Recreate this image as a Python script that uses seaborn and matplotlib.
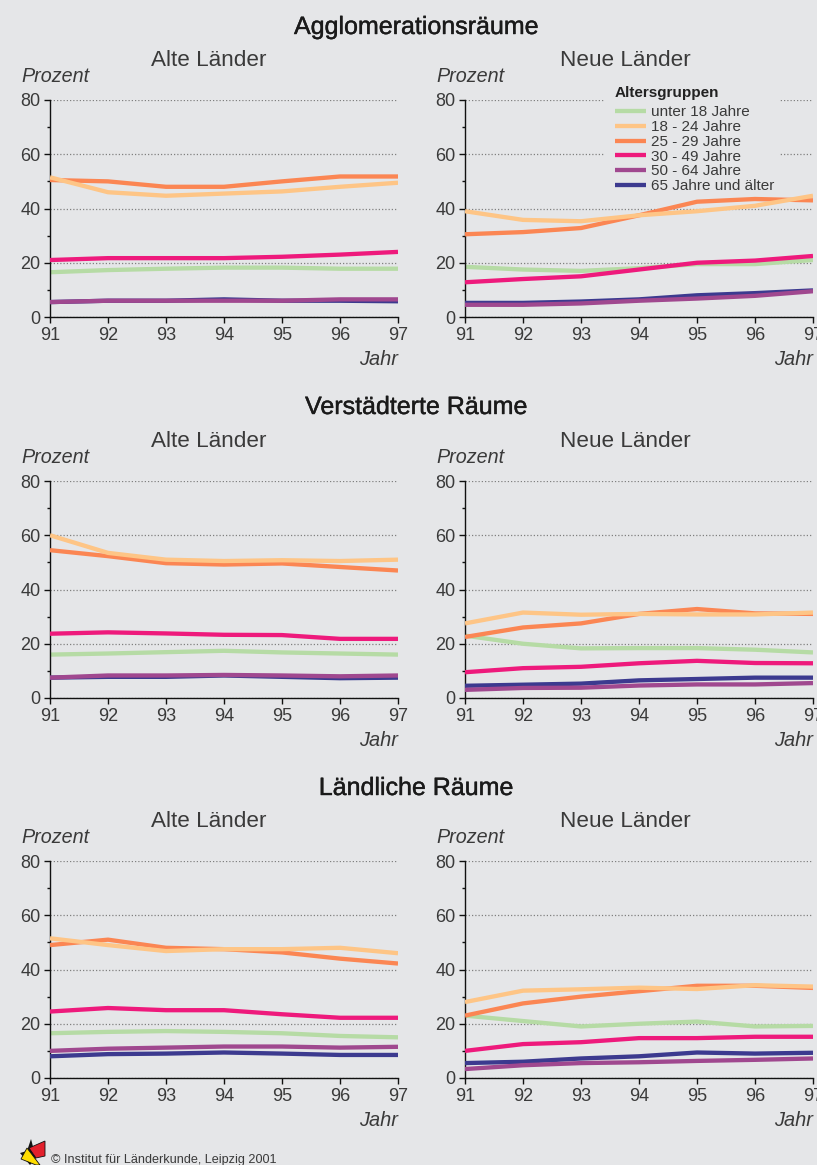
import matplotlib
matplotlib.use('Agg')
import matplotlib.pyplot as plt
import matplotlib.patheffects as pe
from matplotlib.patches import Polygon, Rectangle
import pandas as pd
import seaborn as sns

jahre = [91, 92, 93, 94, 95, 96, 97]
gruppen = ['unter 18 Jahre', '18 - 24 Jahre', '25 - 29 Jahre', '30 - 49 Jahre', '50 - 64 Jahre', '65 Jahre und älter']
farben = ['#B6DBA5', '#FEC586', '#FB8653', '#EE1A7C', '#A0488F', '#3C3A8F']

agglo_alt = [
    [16.5, 17.3, 17.8, 18.2, 18.2, 17.8, 17.8],
    [51.5, 46, 44.7, 45.5, 46.3, 48, 49.5],
    [50.5, 50, 48, 48, 50, 51.8, 51.8],
    [21, 21.7, 21.7, 21.7, 22.2, 23, 24],
    [5.5, 6, 6, 6, 6, 6.5, 6.5],
    [5.5, 6, 6, 6.5, 6, 6, 5.8],
]
agglo_neu = [
    [18.5, 17.5, 17, 18, 19.5, 19.5, 21],
    [39, 35.8, 35.3, 37.5, 39, 41, 44.7],
    [30.5, 31.3, 32.8, 37.5, 42.5, 43.5, 43],
    [12.8, 14, 15, 17.5, 20, 20.8, 22.5],
    [4.5, 4.5, 5, 6, 6.8, 7.8, 9.5],
    [5.2, 5.2, 5.7, 6.5, 8, 8.8, 9.8],
]
stadt_alt = [
    [16, 16.4, 16.9, 17.4, 16.8, 16.4, 16],
    [60, 53.5, 51, 50.5, 50.8, 50.5, 51],
    [54.5, 52.3, 49.7, 49.2, 49.6, 48.3, 47],
    [23.7, 24.2, 23.8, 23.3, 23.2, 21.8, 21.8],
    [7.5, 8.3, 8.3, 8.5, 8.3, 8, 8.3],
    [7.5, 7.8, 7.8, 8.3, 7.8, 7.3, 7.5],
]
stadt_neu = [
    [23, 20, 18.3, 18.4, 18.4, 17.8, 16.8],
    [27.5, 31.5, 30.7, 31, 30.8, 30.8, 31.5],
    [22.5, 26, 27.5, 31, 32.8, 31.2, 31],
    [9.5, 11, 11.5, 12.8, 13.7, 12.9, 12.8],
    [3, 3.7, 3.8, 4.6, 5, 5, 5.5],
    [4.5, 4.9, 5.3, 6.5, 7, 7.5, 7.5],
]
land_alt = [
    [16.5, 17, 17.3, 17, 16.5, 15.5, 15],
    [51.5, 49, 46.8, 47.5, 47.5, 48, 46],
    [49, 51, 48, 47.5, 46.3, 44, 42.2],
    [24.5, 25.8, 25, 25, 23.5, 22.2, 22.2],
    [10, 10.8, 11.2, 11.6, 11.6, 11.2, 11.5],
    [8, 8.8, 9, 9.4, 9, 8.5, 8.5],
]
land_neu = [
    [23, 21, 19, 20, 20.8, 19, 19.2],
    [28, 32.2, 32.7, 33.3, 32.8, 34.2, 33.7],
    [23, 27.5, 30, 32, 34, 34, 33.2],
    [10, 12.5, 13.2, 14.7, 14.7, 15.2, 15.2],
    [3.3, 4.7, 5.5, 5.8, 6.3, 6.7, 7.2],
    [5.5, 6, 7.2, 8, 9.4, 9, 9.3],
]

B, H = 817, 1165
HINTERGRUND = '#E5E6E8'
TEXT = '#3a3a3a'

sns.set_theme(style='white')
plt.rcParams['font.family'] = ['Liberation Sans', 'DejaVu Sans']

fig = plt.figure(figsize=(B / 100, H / 100), dpi=100, facecolor=HINTERGRUND)


def fx(x):
    return x / B


def fy(y):
    return 1 - y / H


def panel(links, oben, werte):
    ax = fig.add_axes([fx(links), fy(oben + 217), 348 / B, 217 / H], facecolor='none')
    # reihenfolge der linien wie im original: lila liegt ueber blau, hellorange ueber orange
    ebene = [2, 4, 3, 5, 7, 6]
    for i, g in enumerate(gruppen):
        df = pd.DataFrame({'jahr': jahre, 'prozent': werte[i]})
        sns.lineplot(data=df, x='jahr', y='prozent', ax=ax, color=farben[i], linewidth=3.1,
                     label=g, zorder=ebene[i], errorbar=None, solid_capstyle='butt', legend=False)
    ax.set_xlim(91, 97)
    ax.set_ylim(0, 80)
    ax.set_xticks(jahre)
    ax.set_yticks([0, 20, 40, 60, 80])
    ax.set_yticks([10, 30, 50, 70], minor=True)
    ax.set_xlabel('')
    ax.set_ylabel('')
    ax.tick_params(axis='both', which='major', direction='out', left=True, bottom=True, length=4, width=1,
                   color='#111111', labelsize=13, labelcolor=TEXT, pad=3)
    ax.tick_params(axis='y', which='minor', direction='out', left=True, length=2, width=1, color='#111111')
    ax.yaxis.grid(True, linestyle=(0, (1, 1.6)), linewidth=0.9, color='#808080')
    ax.set_axisbelow(True)
    for s in ['top', 'right']:
        ax.spines[s].set_visible(False)
    for s in ['left', 'bottom']:
        ax.spines[s].set_color('#111111')
        ax.spines[s].set_linewidth(1)
    return ax


zeilen = [
    ('Agglomerationsräume', 34, 100, agglo_alt, agglo_neu),
    ('Verstädterte Räume', 414, 481, stadt_alt, stadt_neu),
    ('Ländliche Räume', 795, 861, land_alt, land_neu),
]

achsen = []
for titel, y_titel, oben, alt, neu in zeilen:
    fig.text(fx(416), fy(y_titel), titel, fontsize=18, color='#1a1a1a', ha='center', va='baseline',
             path_effects=[pe.withStroke(linewidth=0.3, foreground='#1a1a1a')])
    for links, name, werte, x_name in [(50, 'Alte Länder', alt, 209), (465, 'Neue Länder', neu, 625)]:
        ax = panel(links, oben, werte)
        achsen.append(ax)
        fig.text(fx(x_name), fy(oben - 34), name, fontsize=16.2, color=TEXT, ha='center', va='baseline')
        fig.text(fx(links - 29), fy(oben - 18), 'Prozent', fontsize=14.2, style='italic', color=TEXT,
                 ha='left', va='baseline')
        fig.text(fx(links + 348), fy(oben + 265), 'Jahr', fontsize=14.4, style='italic', color=TEXT,
                 ha='right', va='baseline')

# legende steht im panel oben rechts und verdeckt dort die gitterlinien
ax = achsen[1]
griffe = ax.get_lines()[:6]
ax.add_patch(Rectangle((fx(604), fy(190)), 176 / B, 108 / H, transform=fig.transFigure,
                       facecolor=HINTERGRUND, edgecolor='none', zorder=1.5))
leg = ax.legend(griffe, gruppen, loc='upper left', bbox_to_anchor=(fx(615), fy(105.5)),
                bbox_transform=fig.transFigure, frameon=False, fontsize=11, labelcolor=TEXT,
                handlelength=2.03, handletextpad=0.33, labelspacing=0.045, borderpad=0, borderaxespad=0)
leg.set_zorder(10)
fig.text(fx(615), fy(97), 'Altersgruppen', fontsize=11, fontweight='bold', color='#222222', ha='left', va='baseline')

# logo unten links
fig.patches.append(Polygon([(fx(45), fy(1141)), (fx(29), fy(1148)), (fx(36), fy(1158)), (fx(45), fy(1156))],
                           closed=True, transform=fig.transFigure, facecolor='#E2202C', edgecolor='#111111', linewidth=0.6, zorder=3))
fig.patches.append(Polygon([(fx(31), fy(1139)), (fx(27), fy(1151)), (fx(20), fy(1153)), (fx(30), fy(1165)), (fx(36), fy(1158))],
                           closed=True, transform=fig.transFigure, facecolor='#111111', edgecolor='none', zorder=2))
fig.patches.append(Polygon([(fx(27), fy(1148)), (fx(21), fy(1159)), (fx(36), fy(1165)), (fx(40), fy(1165))],
                           closed=True, transform=fig.transFigure, facecolor='#FFDD00', edgecolor='#111111', linewidth=0.6, zorder=4))
fig.text(fx(51), fy(1163), '© Institut für Länderkunde, Leipzig 2001', fontsize=9.1, color=TEXT, ha='left', va='baseline')

fig.savefig('out.png', dpi=100, facecolor=HINTERGRUND)
